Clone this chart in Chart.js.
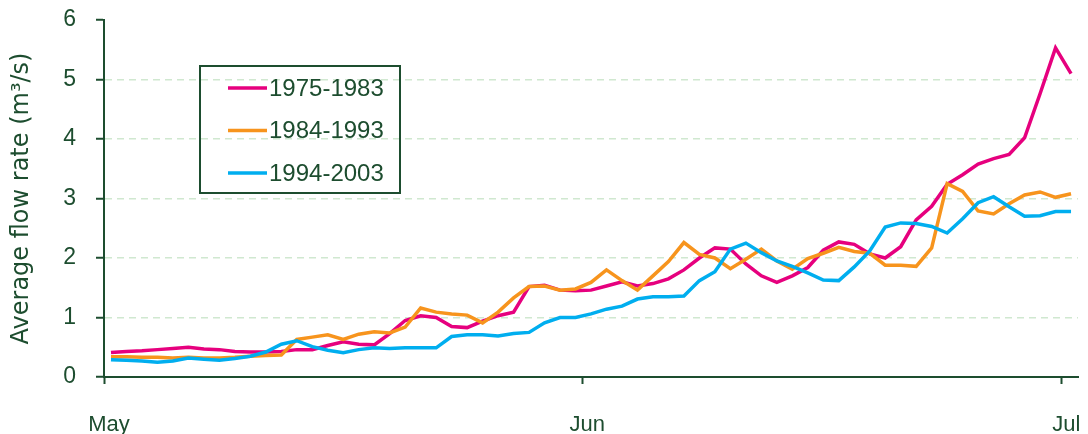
<!DOCTYPE html>
<html>
<head>
<meta charset="utf-8">
<script src="https://cdn.jsdelivr.net/npm/chart.js@4"></script>
<style>
  html, body { margin: 0; padding: 0; background: #fff; }
  #wrap { width: 1088px; height: 434px; }
</style>
</head>
<body>
<div id="wrap"><canvas id="flowChart" width="1088" height="434"></canvas></div>
<script>
// one value per sample, May -> early July
const seriesNames = ["1975-1983", "1984-1993", "1994-2003"];

const flow7583 = [
  0.41, 0.43, 0.44, 0.46, 0.48, 0.50, 0.47, 0.46, 0.43, 0.42,
  0.42, 0.43, 0.46, 0.46, 0.53, 0.59, 0.55, 0.54, 0.73, 0.95,
  1.03, 1.00, 0.85, 0.83, 0.94, 1.03, 1.09, 1.52, 1.54, 1.46,
  1.45, 1.46, 1.53, 1.60, 1.53, 1.57, 1.65, 1.80, 2.00, 2.17,
  2.15, 1.90, 1.70, 1.59, 1.70, 1.84, 2.13, 2.27, 2.23, 2.07,
  2.00, 2.19, 2.64, 2.87, 3.24, 3.40, 3.58, 3.67, 3.74, 4.02,
  4.76, 5.53, 5.10
];
const flow8493 = [
  0.34, 0.34, 0.33, 0.33, 0.32, 0.33, 0.32, 0.32, 0.33, 0.35,
  0.36, 0.37, 0.63, 0.67, 0.71, 0.63, 0.72, 0.76, 0.74, 0.84,
  1.16, 1.09, 1.06, 1.04, 0.91, 1.09, 1.33, 1.52, 1.53, 1.46,
  1.48, 1.59, 1.80, 1.62, 1.46, 1.70, 1.94, 2.26, 2.06, 2.00,
  1.82, 1.98, 2.15, 1.95, 1.81, 1.99, 2.08, 2.18, 2.11, 2.08,
  1.88, 1.88, 1.86, 2.17, 3.25, 3.12, 2.79, 2.74, 2.91, 3.06,
  3.11, 3.02, 3.08
];
const flow9403 = [
  0.29, 0.28, 0.27, 0.25, 0.27, 0.32, 0.30, 0.28, 0.31, 0.35,
  0.42, 0.55, 0.61, 0.51, 0.45, 0.41, 0.46, 0.49, 0.48, 0.49,
  0.49, 0.49, 0.68, 0.71, 0.71, 0.69, 0.73, 0.75, 0.91, 1.00,
  1.00, 1.06, 1.14, 1.19, 1.31, 1.35, 1.35, 1.36, 1.62, 1.77,
  2.15, 2.25, 2.09, 1.95, 1.86, 1.75, 1.63, 1.62, 1.85, 2.12,
  2.52, 2.59, 2.58, 2.53, 2.42, 2.66, 2.93, 3.03, 2.86, 2.70,
  2.71, 2.78, 2.78
];

const monthLabels = ["May", "Jun", "Jul"];
const monthAt = [-0.45, 30.43, 61.37]; // sample index where each month tick falls

const green = "#1d4d2f";
const colors = ["#e6007e", "#f7941d", "#00aeef"];

function pts(arr) {
  return arr.map((v, i) => ({ x: i, y: v }));
}

// legend drawn inside the plot like the original boxed key
const boxLegend = {
  id: "boxLegend",
  afterDraw(chart) {
    const ctx = chart.ctx;
    ctx.save();
    ctx.strokeStyle = green;
    ctx.lineWidth = 2;
    ctx.strokeRect(200, 66, 200, 127);
    ctx.font = "24px 'Liberation Sans'";
    ctx.textBaseline = "middle";
    chart.data.datasets.forEach((ds, i) => {
      const y = 88 + i * 42.5;
      ctx.strokeStyle = ds.borderColor;
      ctx.lineWidth = 3.5;
      ctx.beginPath();
      ctx.moveTo(228, y);
      ctx.lineTo(267, y);
      ctx.stroke();
      ctx.fillStyle = green;
      ctx.fillText(ds.label, 269, y + 1);
    });
    ctx.restore();
  }
};

const allFlows = [flow7583, flow8493, flow9403];

new Chart("flowChart", {
  type: "line",
  data: {
    datasets: allFlows.map((arr, i) => ({
      label: seriesNames[i],
      data: pts(arr),
      borderColor: colors[i],
      borderWidth: 3.5,
      pointRadius: 0,
      tension: 0,
      fill: false,
      order: 2 - i
    }))
  },
  options: {
    responsive: false,
    animation: false,
    layout: { padding: { top: 20, right: 10, left: 0, bottom: 0 } },
    plugins: { legend: { display: false }, tooltip: { enabled: false } },
    scales: {
      x: {
        type: "linear",
        min: -0.45,
        max: 62.45,
        afterBuildTicks(scale) {
          scale.ticks = monthAt.map(v => ({ value: v }));
        },
        afterFit(scale) {
          scale.height = 57;
          scale.paddingLeft = 0;
          scale.paddingRight = 0;
        },
        ticks: {
          autoSkip: false,
          maxRotation: 0,
          padding: 28,
          labelOffset: 5,
          color: green,
          font: { family: "'Liberation Sans'", size: 22 },
          callback: (v, i) => monthLabels[i]
        },
        grid: {
          drawOnChartArea: false,
          tickColor: green,
          tickLength: 7,
          tickWidth: 2
        },
        border: { color: green, width: 2 }
      },
      y: {
        min: 0,
        max: 6,
        afterFit(scale) {
          scale.width = 104;
          scale.paddingTop = 0;
          scale.paddingBottom = 0;
        },
        ticks: {
          stepSize: 1,
          padding: 20,
          color: green,
          font: { family: "'Liberation Sans'", size: 23 }
        },
        grid: {
          color: c => (c.tick.value > 0 && c.tick.value < 6) ? "#d0e8d0" : "rgba(0,0,0,0)",
          lineWidth: 1.5,
          tickColor: green,
          tickLength: 8,
          tickWidth: 2
        },
        border: { color: green, width: 2, dash: [7, 5] },
        title: {
          display: true,
          text: "Average flow rate (m\u00b3/s)",
          color: green,
          padding: { top: 7, bottom: 0 },
          font: { family: "'DejaVu Sans'", size: 24 }
        }
      }
    }
  },
  plugins: [boxLegend]
});
</script>
</body>
</html>
